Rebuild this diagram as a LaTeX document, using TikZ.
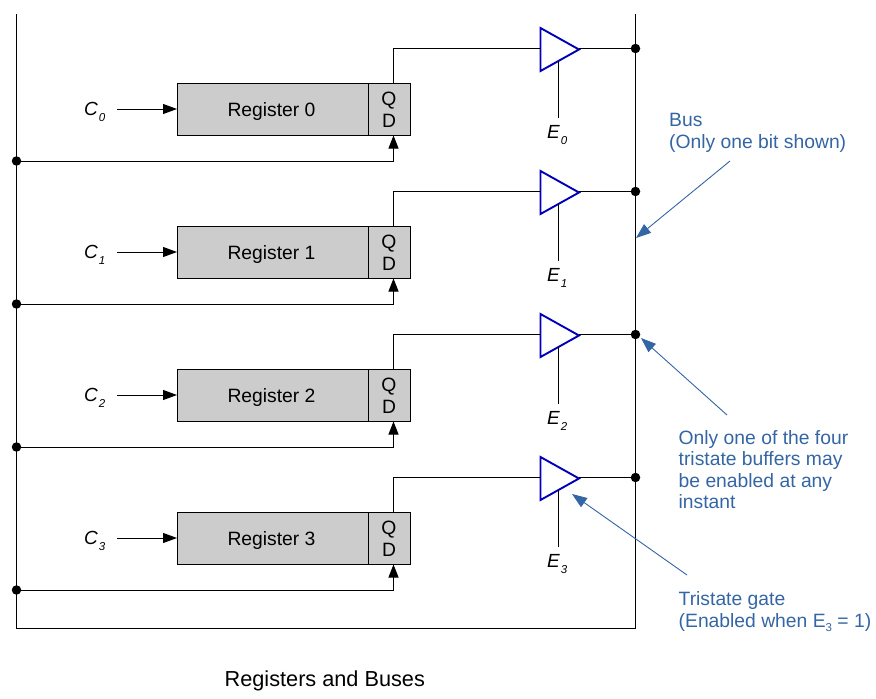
\documentclass[tikz,border=0pt]{standalone}
\usepackage{fontspec}
\setmainfont{Liberation Sans}
\usetikzlibrary{arrows.meta,shapes.geometric}
\definecolor{noteblue}{HTML}{3465A4}
\definecolor{gateblue}{HTML}{0000B8}
\definecolor{regfill}{HTML}{CCCCCC}
\newcommand{\sz}[1]{\fontsize{#1}{#1}\selectfont}
\newcommand{\lbl}[2]{{\itshape\sz{19}#1}\raisebox{-6pt}{\itshape\sz{11.5}\kern1pt #2}}
\tikzset{
  x=1pt,y=-1pt,
  wire/.style={draw=black,line width=1pt},
  bigarrow/.style={wire,-{Triangle[length=14pt,width=10pt]}},
  regbox/.style={draw=black,fill=regfill,line width=1pt,minimum height=52pt,inner sep=0pt,outer sep=0pt},
  gate/.style={draw=gateblue,line width=1.9pt,isosceles triangle,isosceles triangle stretches,minimum width=43pt,minimum height=38.5pt,inner sep=0pt,outer sep=0pt,anchor=lower side},
  junction/.style={circle,fill=black,inner sep=0pt,minimum size=9.5pt},
  tag/.style={inner sep=0pt,anchor=base,font=\sz{19.3}},
  note/.style={text=noteblue,font=\sz{19.3},align=left,anchor=north west,inner sep=0pt},
  notearrow/.style={draw=noteblue,line width=0.9pt,-{Triangle[length=15pt,width=11pt]}}
}
\begin{document}
\begin{tikzpicture}
\useasboundingbox (0,0) rectangle (876,699);
% bus frame
\coordinate (lt) at (16.5,14);
\coordinate (lb) at (16.5,628);
\coordinate (rb) at (635.5,628);
\coordinate (rt) at (635.5,14);
\draw[wire] (lt) -- (lb) -- (rb) -- (rt);
\foreach \i in {0,1,2,3}{
  \pgfmathsetmacro{\dy}{143*\i}
  \begin{scope}[yshift=-\dy pt]
    \node[regbox,minimum width=190.5pt,anchor=north west] (reg\i) at (177.5,83.5) {};
    \node[tag] (rl\i) at (271.5,116) {Register \i};
    \node[regbox,minimum width=42.5pt,anchor=north west] (qd\i) at (368,83.5) {};
    \node[tag] (ql\i) at (389,105.7) {Q};
    \node[tag] (dl\i) at (389,127) {D};
    \coordinate (qt\i) at (393.5,83.5);
    \coordinate (db\i) at (393.5,135.5);
    \node[gate] (buf\i) at (540.5,49.5) {};
    \coordinate (bi\i) at (540.5,48.5);
    \coordinate (bo\i) at (578.5,48.5);
    \coordinate (en\i) at (558,61);
    \coordinate (ee\i) at (558,118);
    \node[junction] (bd\i) at (635.5,48.5) {};
    \node[junction] (cd\i) at (16.5,161) {};
    \node[inner sep=0pt,anchor=base west] (cl\i) at (84,115) {\lbl{C}{\i}};
    \node[inner sep=0pt,anchor=base west] (el\i) at (547,138) {\lbl{E}{\i}};
    \coordinate (cs\i) at (117,109);
    \coordinate (ct\i) at (177,109);
  \end{scope}
  \draw[wire] (qt\i) |- (bi\i);
  \draw[wire] (bo\i) -- (bd\i);
  \draw[wire] (en\i) -- (ee\i);
  \draw[bigarrow] (cs\i) -- (ct\i);
  \draw[wire,-{Triangle[length=13pt,width=10pt]}] (cd\i) -| (db\i);
}
% notes
\node[note] (nbus) at (669,113) {Bus\\[3pt](Only one bit shown)};
\node[note] (none) at (678.5,430) {Only one of the four\\[2.3pt]tristate buffers may\\[2.3pt]be enabled at any\\[2.3pt]instant};
\node[note] (ntri) at (678.5,591.5) {Tristate gate\\[3pt](Enabled when E\raisebox{-4pt}{\sz{11.5}3} = 1)};
\node[inner sep=0pt,anchor=base west,font=\sz{21.7}] (title) at (224.5,686) {Registers and Buses};
\coordinate (a1s) at (730,161);
\coordinate (a1e) at (636,238);
\coordinate (a2s) at (727,415);
\coordinate (a2e) at (641,338);
\coordinate (a3s) at (687,575);
\coordinate (a3e) at (572,494);
\draw[notearrow] (a1s) -- (a1e);
\draw[notearrow] (a2s) -- (a2e);
\draw[notearrow] (a3s) -- (a3e);
\end{tikzpicture}
\end{document}
